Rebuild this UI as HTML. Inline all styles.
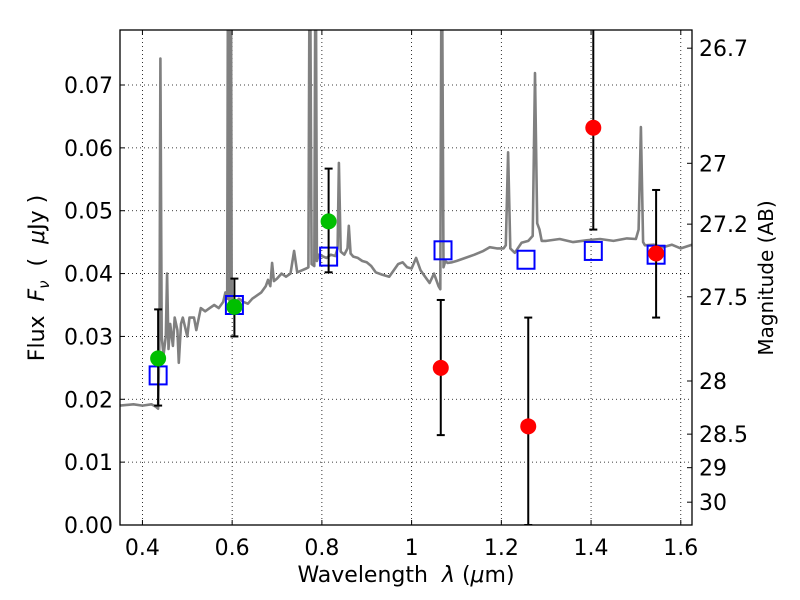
<!DOCTYPE html>
<html><head><meta charset="utf-8"><style>
html,body{margin:0;padding:0;background:#fff;}
svg{display:block;font-family:"DejaVu Sans","Liberation Sans",sans-serif;}
</style></head><body>
<svg id="chart" width="800" height="600" viewBox="0 0 800 600" xmlns="http://www.w3.org/2000/svg"></svg>
<script>
const xTicks=[0.4,0.6,0.8,1.0,1.2,1.4,1.6];
const xTickLabels=["0.4","0.6","0.8","1","1.2","1.4","1.6"];
const yTicks=[0,0.01,0.02,0.03,0.04,0.05,0.06,0.07];
const yTickLabels=["0.00","0.01","0.02","0.03","0.04","0.05","0.06","0.07"];
const magTicks=[26.7,27,27.2,27.5,28,28.5,29,30];
const magTickLabels=["26.7","27","27.2","27.5","28","28.5","29","30"];
const specWl=[0.35,0.38,0.40,0.42,0.43,0.435,0.438,0.440,0.443,0.447,0.452,0.455,0.458,0.462,0.468,0.472,0.478,0.481,0.486,0.49,0.50,0.505,0.515,0.52,0.53,0.54,0.55,0.56,0.57,0.58,0.585,0.589,0.591,0.593,0.595,0.597,0.599,0.605,0.615,0.625,0.635,0.645,0.655,0.665,0.675,0.68,0.685,0.689,0.693,0.70,0.71,0.72,0.73,0.738,0.745,0.755,0.765,0.770,0.773,0.777,0.783,0.786,0.789,0.793,0.80,0.81,0.82,0.83,0.835,0.838,0.842,0.85,0.857,0.86,0.864,0.87,0.88,0.89,0.90,0.91,0.92,0.935,0.95,0.96,0.97,0.98,0.99,1.0,1.01,1.02,1.03,1.04,1.05,1.06,1.064,1.067,1.071,1.075,1.08,1.09,1.10,1.12,1.14,1.16,1.174,1.19,1.205,1.21,1.215,1.22,1.23,1.245,1.26,1.27,1.275,1.28,1.285,1.29,1.30,1.33,1.36,1.39,1.42,1.45,1.48,1.50,1.506,1.511,1.516,1.52,1.54,1.56,1.58,1.60,1.625];
const specFlux=[0.0190,0.0192,0.0190,0.0192,0.0188,0.0185,0.030,0.0742,0.030,0.0270,0.030,0.0400,0.028,0.0320,0.0285,0.0330,0.0310,0.0258,0.0320,0.0330,0.0300,0.0330,0.0330,0.0310,0.0345,0.0340,0.0345,0.0350,0.0345,0.0355,0.0370,0.0360,0.1000,0.0360,0.0355,0.1000,0.0360,0.0350,0.0360,0.0355,0.0352,0.0360,0.0365,0.0370,0.0380,0.0390,0.0380,0.0417,0.0388,0.0392,0.0400,0.0395,0.0400,0.0436,0.0402,0.0405,0.0408,0.0410,0.1000,0.0415,0.0412,0.1000,0.0420,0.0430,0.0428,0.0425,0.0430,0.0428,0.0440,0.0576,0.0435,0.0430,0.0440,0.0476,0.0432,0.0427,0.0425,0.0420,0.0418,0.0412,0.0402,0.0398,0.0395,0.0405,0.0415,0.0418,0.0410,0.0408,0.0425,0.0405,0.0395,0.0385,0.0400,0.0380,0.0375,0.1000,0.0410,0.0420,0.0417,0.0418,0.0420,0.0425,0.0430,0.0436,0.0442,0.0440,0.0440,0.0445,0.0593,0.0440,0.0433,0.0449,0.0452,0.0460,0.0719,0.0480,0.0470,0.0452,0.0452,0.0455,0.0450,0.0453,0.0455,0.0452,0.0456,0.0455,0.0470,0.0633,0.0450,0.0445,0.0446,0.0442,0.0446,0.0440,0.0446];
const boxWl=[0.435,0.605,0.815,1.07,1.255,1.405,1.545];
const boxFlux=[0.0238,0.0350,0.0427,0.0437,0.0422,0.0436,0.0430];
const greenWl=[0.435,0.605,0.815];
const greenFlux=[0.0265,0.0347,0.0483];
const greenLo=[0.0190,0.0300,0.0402];
const greenHi=[0.0343,0.0392,0.0567];
const redWl=[1.065,1.26,1.405,1.545];
const redFlux=[0.0250,0.0157,0.0632,0.0432];
const redLo=[0.0143,0.0,0.0470,0.0330];
const redHi=[0.0358,0.0330,0.0800,0.0533];

const L=120,R=692,T=30,B=525,X0=0.35,X1=1.625,Y0=0,Y1=0.07875;
const sx=v=>L+(v-X0)/(X1-X0)*(R-L);
const sy=v=>B-(v-Y0)/(Y1-Y0)*(B-T);
const magToFlux=m=>Math.pow(10,(23.9-m)/2.5);
const svg=document.getElementById('chart');
const NS='http://www.w3.org/2000/svg';
function mk(tag,attrs,parent){const e=document.createElementNS(NS,tag);for(const k in attrs)e.setAttribute(k,attrs[k]);(parent||svg).appendChild(e);return e;}

const defs=mk('defs',{});
const cp=mk('clipPath',{id:'plotclip'},defs);
mk('rect',{x:L,y:T,width:R-L,height:B-T},cp);

const grid=mk('g',{});


xTicks.forEach(v=>{const l=mk('line',{x1:sx(v),x2:sx(v),y1:T,y2:B,stroke:'#000','stroke-width':0.8,'stroke-dasharray':'1,3'},grid);

});
yTicks.forEach(v=>{const l=mk('line',{x1:L,x2:R,y1:sy(v),y2:sy(v),stroke:'#000','stroke-width':0.8,'stroke-dasharray':'1,3'},grid);

});

const plot=mk('g',{'clip-path':'url(#plotclip)'});
let d='';specWl.forEach((w,i)=>{d+=(i?'L':'M')+sx(w).toFixed(1)+','+sy(specFlux[i]).toFixed(1);});
const spec=mk('path',{d:d,fill:'none',stroke:'#808080','stroke-width':2.6,'stroke-linejoin':'round'},plot);



boxWl.forEach((w,i)=>{const r=mk('rect',{x:sx(w)-8.5,y:sy(boxFlux[i])-9,width:17,height:18,fill:'none',stroke:'#0000ff','stroke-width':2},plot);

});

function errbar(w,lo,hi,name){const g=mk('g',{stroke:'#000','stroke-width':2},plot);


const x=sx(w);mk('line',{x1:x,x2:x,y1:sy(lo),y2:sy(hi)},g);
mk('line',{x1:x-4,x2:x+4,y1:sy(lo),y2:sy(lo)},g);mk('line',{x1:x-4,x2:x+4,y1:sy(hi),y2:sy(hi)},g);}
greenWl.forEach((w,i)=>errbar(w,greenLo[i],greenHi[i],'green-errorbar'));
redWl.forEach((w,i)=>errbar(w,redLo[i],redHi[i],'red-errorbar'));
greenWl.forEach((w,i)=>{const c=mk('circle',{cx:sx(w),cy:sy(greenFlux[i]),r:8,fill:'#00bf00'},plot);

});
redWl.forEach((w,i)=>{const c=mk('circle',{cx:sx(w),cy:sy(redFlux[i]),r:8,fill:'#ff0000'},plot);

});

const frame=mk('rect',{x:L,y:T,width:R-L,height:B-T,fill:'none',stroke:'#000','stroke-width':1.3});



xTicks.forEach((v,i)=>{const x=sx(v);
mk('line',{x1:x,x2:x,y1:B,y2:B-5,stroke:'#000'});mk('line',{x1:x,x2:x,y1:T,y2:T+5,stroke:'#000'});
const t=mk('text',{x:x,y:B+30,'font-size':22,'text-anchor':'middle'});t.textContent=xTickLabels[i];

});
yTicks.forEach((v,i)=>{const y=sy(v);
mk('line',{x1:L,x2:L+5,y1:y,y2:y,stroke:'#000'});
const t=mk('text',{x:L-7,y:y+8,'font-size':22,'text-anchor':'end'});t.textContent=yTickLabels[i];

});
magTicks.forEach((m,i)=>{const y=sy(magToFlux(m));
mk('line',{x1:R,x2:R-5,y1:y,y2:y,stroke:'#000'});
const t=mk('text',{x:R+7,y:y+8,'font-size':22});t.textContent=magTickLabels[i];

});
</script>
<svg style="position:absolute;left:0;top:0" width="800" height="600">
<text x="406" y="582" font-size="22" text-anchor="middle" font-family="DejaVu Sans, Liberation Sans, sans-serif">Wavelength&#160;&#160;<tspan font-style="italic">λ</tspan>&#160;(<tspan font-style="italic">μ</tspan>m)</text>
<text transform="translate(44,278) rotate(-90)" font-size="22" text-anchor="middle" font-family="DejaVu Sans, Liberation Sans, sans-serif">Flux&#160;&#160;<tspan font-style="italic">F</tspan><tspan font-style="italic" font-size="15" dy="5">ν</tspan><tspan dy="-5">&#160;&#160;(&#160;&#160;</tspan><tspan font-style="italic">μ</tspan>Jy&#160;)</text>
<text transform="translate(773,278) rotate(-90)" font-size="20" text-anchor="middle" font-family="DejaVu Sans, Liberation Sans, sans-serif">Magnitude (AB)</text>
</svg>
</body></html>
